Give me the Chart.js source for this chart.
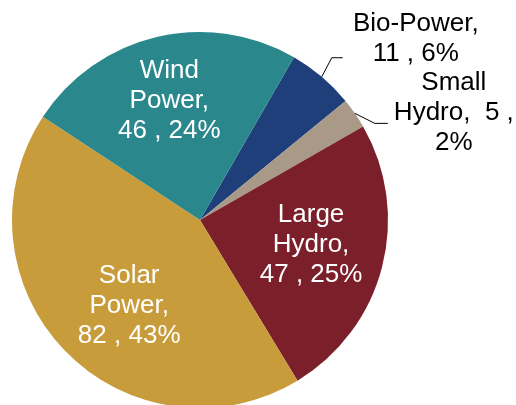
<!DOCTYPE html>
<html>
<head>
<meta charset="utf-8">
<script src="https://cdn.jsdelivr.net/npm/chart.js@4"></script>
<style>
  body { margin: 0; background: #fff; }
</style>
</head>
<body>
<canvas id="myChart" width="516" height="405"></canvas>
<script>
// data (clockwise from the Wind / Bio-Power boundary)
var sources = ['Bio-Power', 'Small Hydro', 'Large Hydro', 'Solar Power', 'Wind Power'];
var capacity = [11, 5, 47, 82, 46];
var shares = ['6%', '2%', '25%', '43%', '24%'];
var labelLines = [
    ['Bio-Power,', '11 , 6%'],
    ['Small', 'Hydro,  5 ,', '2%'],
    ['Large', 'Hydro,', '47 , 25%'],
    ['Solar', 'Power,', '82 , 43%'],
    ['Wind', 'Power,', '46 , 24%']
];
var sliceColors = ['#1F3F7A', '#A89A87', '#7B1F2B', '#C89C3B', '#2A888C'];

// how each label is placed: inside slices use a radius fraction plus a nudge,
// the two small ones sit outside with a leader line
var labelStyle = [
    { outside: true, elbow: [10, -19], lineEnd: 11, text: [73, -19] },
    { outside: true, elbow: [20, 10], lineEnd: 13, text: [66, -11] },
    { frac: 0.61, nudge: [0, -4] },
    { frac: 0.59, nudge: [9, 9] },
    { frac: 0.66, nudge: [-2, 2] }
];

var sliceLabels = {
    id: 'sliceLabels',
    afterDatasetsDraw: function (chart) {
        var ctx = chart.ctx;
        var meta = chart.getDatasetMeta(0);
        ctx.save();
        ctx.font = '26px "Liberation Sans", Arial, sans-serif';
        ctx.textAlign = 'center';
        ctx.textBaseline = 'middle';
        var lh = 30;
        meta.data.forEach(function (arc, i) {
            var st = labelStyle[i];
            var mid = (arc.startAngle + arc.endAngle) / 2;
            var lines = labelLines[i];
            var cx, cy;
            if (st.outside) {
                var sx = arc.x + Math.cos(mid) * arc.outerRadius;
                var sy = arc.y + Math.sin(mid) * arc.outerRadius;
                var ex = sx + st.elbow[0], ey = sy + st.elbow[1];
                ctx.strokeStyle = '#000';
                ctx.lineWidth = 1;
                ctx.beginPath();
                ctx.moveTo(sx, sy);
                ctx.lineTo(ex, ey);
                ctx.lineTo(ex + st.lineEnd, ey);
                ctx.stroke();
                cx = ex + st.lineEnd + st.text[0];
                cy = ey + st.text[1];
                ctx.fillStyle = '#000';
            } else {
                cx = arc.x + Math.cos(mid) * arc.outerRadius * st.frac + st.nudge[0];
                cy = arc.y + Math.sin(mid) * arc.outerRadius * st.frac + st.nudge[1];
                ctx.fillStyle = '#fff';
            }
            var top = cy - (lines.length - 1) * lh / 2;
            lines.forEach(function (t, k) {
                ctx.fillText(t, cx, top + k * lh);
            });
        });
        ctx.restore();
    }
};

var ctx = document.getElementById('myChart').getContext('2d');
var myChart = new Chart(ctx, {
    type: 'pie',
    data: {
        labels: sources,
        datasets: [{
            data: capacity,
            backgroundColor: sliceColors,
            borderWidth: 0
        }]
    },
    options: {
        responsive: false,
        animation: false,
        rotation: 30,
        radius: 188,
        layout: { padding: { left: 12, right: 128, top: 35, bottom: 0 } },
        plugins: {
            legend: { display: false },
            tooltip: { enabled: false }
        }
    },
    plugins: [sliceLabels]
});
</script>
</body>
</html>
